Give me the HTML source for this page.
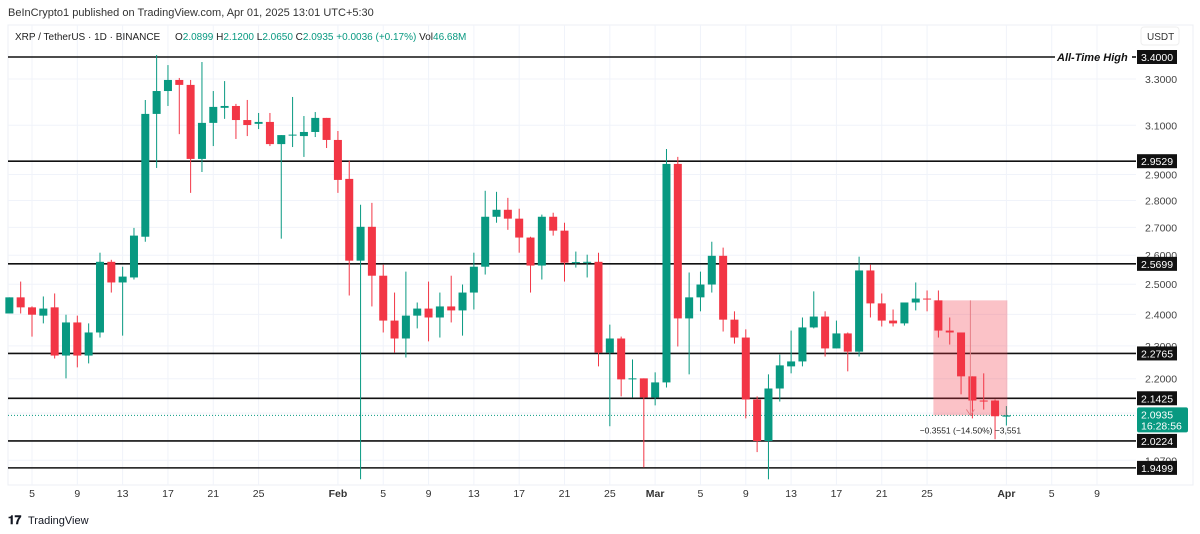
<!DOCTYPE html>
<html><head><meta charset="utf-8"><style>
body{margin:0;background:#fff;width:1200px;height:534px;overflow:hidden;font-family:"Liberation Sans",sans-serif}
svg{display:block}
</style></head><body>
<svg id="chart" width="1200" height="534" xmlns="http://www.w3.org/2000/svg">
<rect x="0" y="0" width="1200" height="534" fill="#fff"/>
<text x="8" y="16" font-size="11" fill="#333">BeInCrypto1 published on TradingView.com, Apr 01, 2025 13:01 UTC+5:30</text>
<rect x="8" y="25" width="1185" height="460" fill="none" stroke="#eceff4"/>
<g id="grid"></g>
<g id="levels"></g>
<g id="candles"></g>
<g id="overlay"></g>
<g font-size="10">
<text x="15" y="40" fill="#222">XRP / TetherUS · 1D · BINANCE</text>
<text x="175" y="40" fill="#222">O<tspan fill="#089981">2.0899</tspan>  H<tspan fill="#089981">2.1200</tspan>  L<tspan fill="#089981">2.0650</tspan>  C<tspan fill="#089981">2.0935</tspan>  <tspan fill="#089981">+0.0036 (+0.17%)</tspan>  Vol<tspan fill="#089981">46.68M</tspan></text>
</g>
<rect x="1141" y="27" width="38" height="18" rx="3" fill="#fff" stroke="#eee"/>
<text x="1147" y="40" font-size="10" fill="#333">USDT</text>
<g id="xaxis"></g>
<g id="yaxis"></g>
<g>
<text x="8" y="524" font-size="12" font-weight="bold" fill="#131722">𝟏𝟕</text>
<text x="28" y="524" font-size="11" fill="#131722">TradingView</text>
</g>
</svg>
<script>
const startDay = 3; // Jan 3
const opens  = [2.403,2.456,2.423,2.396,2.423,2.270,2.374,2.270,2.342,2.577,2.506,2.523,2.666,3.148,3.247,3.296,3.274,2.962,3.110,3.174,3.182,3.122,3.106,3.114,3.022,3.059,3.055,3.072,3.131,3.039,2.883,2.581,2.702,2.529,2.380,2.323,2.396,2.419,2.390,2.426,2.413,2.472,2.560,2.739,2.765,2.732,2.663,2.564,2.739,2.688,2.574,2.574,2.577,2.279,2.323,2.198,2.201,2.145,2.189,2.942,2.387,2.456,2.499,2.598,2.383,2.326,2.139,2.022,2.171,2.237,2.252,2.358,2.393,2.292,2.339,2.282,2.547,2.436,2.380,2.371,2.439,2.452,2.446,2.348,2.342,2.207,2.136,2.136,2.0899];
const highs  = [2.456,2.509,2.426,2.459,2.469,2.399,2.396,2.371,2.609,2.584,2.560,2.698,3.208,3.409,3.363,3.305,3.296,3.377,3.247,3.291,3.191,3.208,3.152,3.152,3.059,3.221,3.139,3.156,3.131,3.076,2.954,2.784,2.791,2.567,2.472,2.543,2.439,2.509,2.472,2.529,2.499,2.609,2.837,2.833,2.810,2.769,2.666,2.747,2.754,2.717,2.613,2.602,2.609,2.367,2.329,2.258,2.201,2.219,3.002,2.970,2.540,2.543,2.648,2.627,2.410,2.352,2.148,2.213,2.273,2.348,2.390,2.476,2.410,2.380,2.342,2.595,2.567,2.469,2.416,2.439,2.506,2.479,2.479,2.390,2.342,2.207,2.216,2.139,2.1200];
const lows   = [2.403,2.403,2.329,2.371,2.261,2.201,2.234,2.246,2.326,2.472,2.332,2.516,2.648,2.926,3.182,3.063,2.829,2.910,3.014,3.127,3.043,3.055,3.084,3.014,2.659,3.010,2.970,3.051,3.006,2.829,2.462,1.920,2.426,2.342,2.279,2.264,2.355,2.314,2.326,2.374,2.332,2.416,2.533,2.717,2.691,2.609,2.472,2.516,2.670,2.509,2.557,2.523,2.237,2.063,2.148,2.145,1.951,2.122,2.174,2.298,2.213,2.410,2.472,2.345,2.307,2.085,1.992,1.920,2.133,2.216,2.237,2.355,2.267,2.292,2.222,2.267,2.390,2.361,2.361,2.364,2.413,2.410,2.326,2.304,2.154,2.085,2.110,2.027,2.0650];
const closes = [2.456,2.423,2.399,2.419,2.270,2.374,2.270,2.342,2.577,2.506,2.526,2.670,3.148,3.247,3.296,3.274,2.962,3.110,3.178,3.182,3.122,3.101,3.114,3.022,3.059,3.061,3.072,3.131,3.039,2.879,2.581,2.702,2.529,2.380,2.323,2.396,2.419,2.390,2.426,2.413,2.472,2.560,2.739,2.765,2.732,2.663,2.564,2.739,2.688,2.574,2.576,2.577,2.279,2.323,2.198,2.201,2.145,2.189,2.942,2.387,2.456,2.499,2.598,2.383,2.326,2.139,2.022,2.171,2.240,2.252,2.358,2.393,2.292,2.339,2.282,2.547,2.436,2.380,2.371,2.439,2.452,2.450,2.348,2.342,2.207,2.136,2.133,2.091,2.0935];
const levelValues = [3.4000,2.9529,2.5699,2.2765,2.1425,2.0224,1.9499];
const levelLabels = ["3.4000","2.9529","2.5699","2.2765","2.1425","2.0224","1.9499"];
const tickValues = [3.3,3.1,2.9,2.8,2.7,2.6,2.5,2.4,2.3,2.2,2.1,1.97];
const tickLabels = ["3.3000","3.1000","2.9000","2.8000","2.7000","2.6000","2.5000","2.4000","2.3000","2.2000","2.1000","1.9700"];
const xTickDays = [5,9,13,17,21,25,32,36,40,44,48,52,56,60,64,68,72,76,80,84,91,95,99];
const xTickLabels = ["5","9","13","17","21","25","Feb","5","9","13","17","21","25","Mar","5","9","13","17","21","25","Apr","5","9"];
const measureStartDay = 85, measureEndDay = 91, measureTop = 2.446, measureBottom = 2.0935;
const lastPrice = 2.0935;

const NS="http://www.w3.org/2000/svg";
function el(tag, attrs, parent){const e=document.createElementNS(NS,tag);for(const k in attrs)e.setAttribute(k,attrs[k]);parent.appendChild(e);return e;}
const y = p => 57 + (Math.log(3.4) - Math.log(p)) * 739;
const x = d => 32 + (d - 5) * 11.33;
const PL = 8, PR = 1136;

const grid = document.getElementById('grid');
xTickDays.forEach(d=>{const l=el('line',{x1:x(d),x2:x(d),y1:25,y2:485,stroke:'#f0f3fa'},grid);

});
tickValues.forEach(v=>{const l=el('line',{x1:PL,x2:PR,y1:y(v),y2:y(v),stroke:'#f0f3fa'},grid);

});

const ya = document.getElementById('yaxis');
tickValues.forEach((v,i)=>{const t=el('text',{x:1145,y:y(v)+4,'font-size':'10.5',fill:'#444'},ya);t.textContent=tickLabels[i];

});

const xa = document.getElementById('xaxis');
xTickDays.forEach((d,i)=>{const t=el('text',{x:x(d),y:497,'font-size':'10.5',fill:'#333','text-anchor':'middle','font-weight':(xTickLabels[i].length>2?'bold':'normal')},xa);t.textContent=xTickLabels[i];

});

const ov = document.getElementById('overlay');
const dl=el('line',{x1:PL,x2:PR,y1:y(lastPrice),y2:y(lastPrice),stroke:'#089981','stroke-dasharray':'1,2','stroke-width':1},grid);



const mx1=x(measureStartDay)-5, mx2=x(measureEndDay)+1;
const mb=el('rect',{x:mx1,y:y(measureTop),width:mx2-mx1,height:y(measureBottom)-y(measureTop),fill:'rgba(242,54,69,0.3)'},ov);


const mxc=(mx1+mx2)/2;
el('line',{x1:mxc,x2:mxc,y1:y(measureTop),y2:y(measureBottom),stroke:'#e57f86'},ov);
el('path',{d:`M${mxc-4} ${y(measureBottom)-6} L${mxc} ${y(measureBottom)} L${mxc+4} ${y(measureBottom)-6}`,fill:'none',stroke:'#e57f86'},ov);
const mt=el('text',{x:mxc,y:y(measureBottom)+18,'font-size':'8.5',fill:'#222','text-anchor':'middle'},ov);
mt.textContent='−0.3551 (−14.50%) −3,551';



const lv=document.getElementById('levels');
levelValues.forEach((v,i)=>{
 const yy=y(v);
 const end = i===0?1055:PR;
 const l=el('line',{x1:PL,x2:end,y1:yy,y2:yy,stroke:'#111','stroke-width':1.6},lv);
 
 
});
const ath=el('text',{x:1057,y:y(3.4)+4,'font-size':'11','font-style':'italic','font-weight':'bold',fill:'#111'},ov);
ath.textContent='All-Time High';


el('line',{x1:1132,x2:PR,y1:y(3.4),y2:y(3.4),stroke:'#111','stroke-width':1.6},lv);

const cg=document.getElementById('candles');
opens.forEach((o,i)=>{
 const c=closes[i],h=highs[i],l=lows[i];
 const cx=x(startDay+i);
 const col=c>=o?'#089981':'#f23645';
 const g=el('g',{},cg);
 
 
 el('line',{x1:cx,x2:cx,y1:y(h),y2:y(l),stroke:col,'stroke-width':1},g);
 const top=y(Math.max(o,c)),bot=y(Math.min(o,c));
 el('rect',{x:cx-4,y:top,width:8,height:Math.max(1,bot-top),fill:col},g);
});

levelValues.forEach((v,i)=>{
 const yy=y(v);
 el('rect',{x:1137,y:yy-7,width:40,height:14,fill:'#111'},ya);
 const t=el('text',{x:1157,y:yy+4,'font-size':'10.5',fill:'#fff','text-anchor':'middle'},ya);
 t.textContent=levelLabels[i];
 
 
});
const ly=y(lastPrice);
el('rect',{x:1137,y:ly-8,width:51,height:25,fill:'#089981',rx:2},ya);
const lp=el('text',{x:1141,y:ly+3,'font-size':'10.5',fill:'#fff'},ya);lp.textContent='2.0935';


const cd=el('text',{x:1141,y:ly+14,'font-size':'10.5',fill:'#fff'},ya);cd.textContent='16:28:56';


</script>
</body></html>
